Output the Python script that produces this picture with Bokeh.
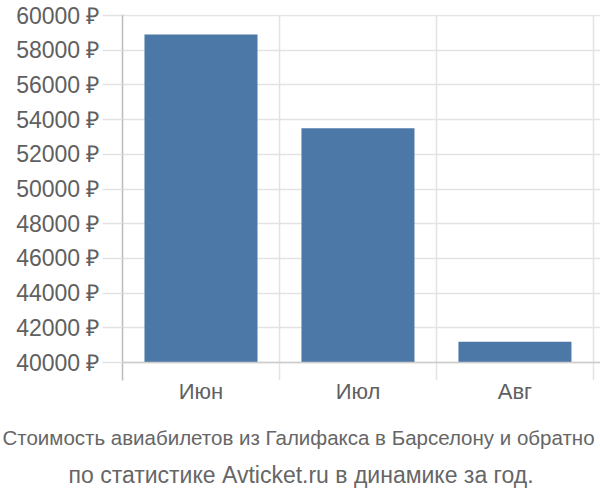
from bokeh.plotting import figure
from bokeh.models import FixedTicker, Title, Span
from bokeh.embed import file_html
from bokeh.resources import INLINE

months = ["Июн", "Июл", "Авг"]
prices = [58900, 53500, 41200]
y_ticks = [40000, 42000, 44000, 46000, 48000, 50000, 52000, 54000, 56000, 58000, 60000]
y_labels = [f"{t} ₽" for t in y_ticks]
title_lines = ["Стоимость авиабилетов из Галифакса в Барселону и обратно",
               "по статистике Avticket.ru в динамике за год."]

FONT = "Liberation Sans"
GRID = "#e3e3e3"
xs = [i + 0.5 for i in range(len(months))]

p = figure(width=600, height=500, output_backend="svg", toolbar_location=None,
           x_range=(0, 3.045), y_range=(38963, 60058),
           min_border_left=122, min_border_right=0, min_border_top=14, min_border_bottom=120)
p.outline_line_color = None
p.background_fill_color = "white"
p.border_fill_color = "white"

p.vbar(x=xs, top=prices, bottom=40000, width=0.72, fill_color="#4c78a8", line_color=None)

p.add_layout(Span(location=40000, dimension="width", line_color="#cccccc", line_width=1.5))

p.yaxis.ticker = FixedTicker(ticks=y_ticks)
p.yaxis.major_label_overrides = {t: l for t, l in zip(y_ticks, y_labels)}
p.yaxis.axis_line_color = "#bbbbbb"
p.yaxis.axis_line_width = 1.5
p.yaxis.major_tick_in = 0
p.yaxis.major_tick_out = 20
p.yaxis.major_tick_line_color = GRID
p.yaxis.major_tick_line_width = 1.5
p.yaxis.minor_tick_line_color = None
p.yaxis.major_label_text_font = FONT
p.yaxis.major_label_text_font_size = "23px"
p.yaxis.major_label_text_color = "#606060"
p.yaxis.major_label_standoff = 3

p.xaxis.ticker = FixedTicker(ticks=xs)
p.xaxis.major_label_overrides = {x: m for x, m in zip(xs, months)}
p.xaxis.axis_line_color = None
p.xaxis.major_tick_line_color = None
p.xaxis.minor_tick_line_color = None
p.xaxis.major_label_text_font = FONT
p.xaxis.major_label_text_font_size = "22px"
p.xaxis.major_label_text_color = "#606060"
p.xaxis.major_label_standoff = -8

p.ygrid.ticker = FixedTicker(ticks=y_ticks)
p.ygrid.grid_line_color = GRID
p.ygrid.grid_line_width = 1.5
p.xgrid.ticker = FixedTicker(ticks=[0, 1, 2, 3])
p.xgrid.grid_line_color = GRID
p.xgrid.grid_line_width = 1.5

title_styles = [("20.5px", -120, 34), ("23px", -54, -12)]
for line, (fs, off, sto) in zip(title_lines, title_styles):
    t = Title(text=line, align="left", text_font=FONT, text_font_size=fs,
              text_font_style="normal", text_color="#666666", offset=off, standoff=sto)
    p.add_layout(t, "below")

open("out.html", "w").write(file_html(p, INLINE))
